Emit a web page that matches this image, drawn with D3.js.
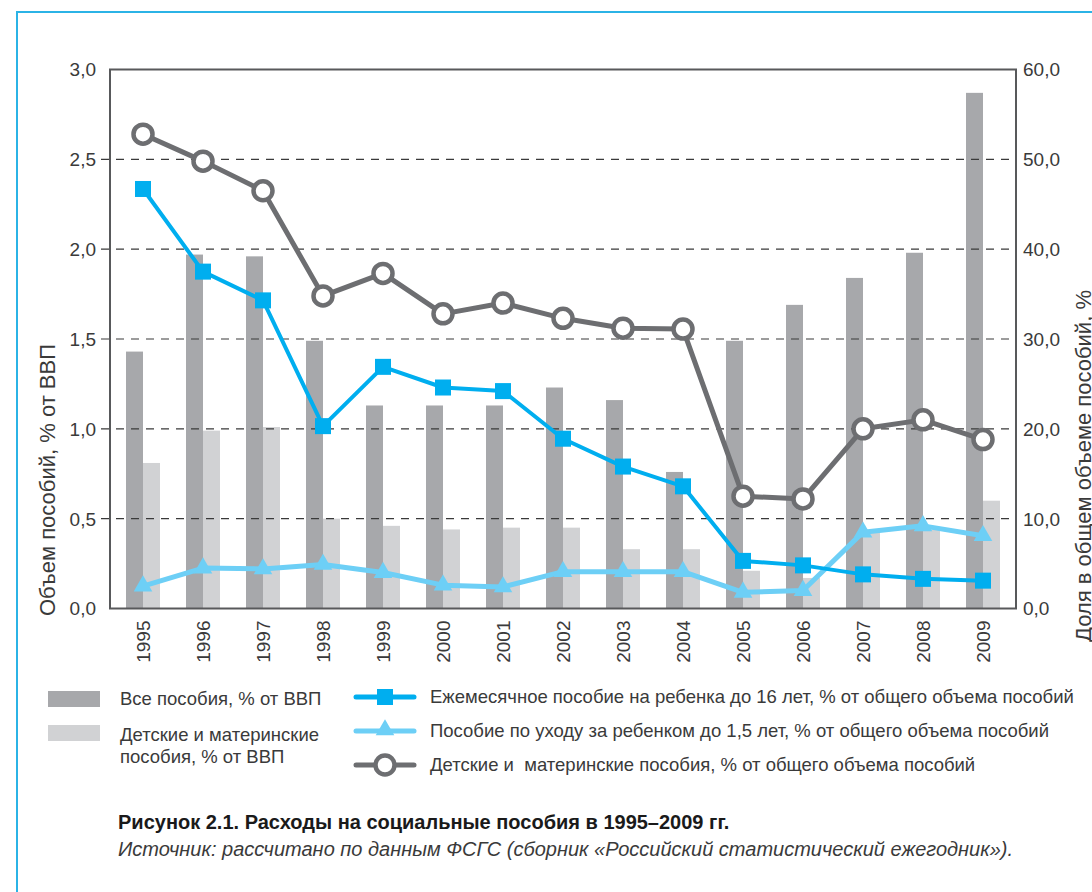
<!DOCTYPE html>
<html>
<head>
<meta charset="UTF-8" />
<title>Расходы на социальные пособия</title>
<script src="https://d3js.org/d3.v7.min.js"></script>
<style>
  body {
    margin: 0;
    background: #ffffff;
    font-family: "Liberation Sans", Arial, sans-serif;
  }
  svg { display: block; }
  .tick-label { font-size: 19px; fill: #3a3a3a; }
  .legend-text { font-size: 18.5px; fill: #3a3a3a; }
</style>
</head>
<body>
<svg id="chart"></svg>
<script>
  const years = ["1995","1996","1997","1998","1999","2000","2001","2002","2003","2004","2005","2006","2007","2008","2009"];

  // bars, left axis (% of GDP)
  const allBenefitsGdp   = [1.43, 1.97, 1.96, 1.49, 1.13, 1.13, 1.13, 1.23, 1.16, 0.76, 1.49, 1.69, 1.84, 1.98, 2.87];
  const childBenefitsGdp = [0.81, 0.99, 1.01, 0.50, 0.46, 0.44, 0.45, 0.45, 0.33, 0.33, 0.21, 0.17, 0.43, 0.44, 0.60];

  // lines, right axis (% of all benefits)
  const monthlyShare   = [46.7, 37.5, 34.3, 20.3, 26.9, 24.6, 24.2, 18.9, 15.8, 13.6, 5.3, 4.8, 3.8, 3.3, 3.1];
  const careLeaveShare = [2.5, 4.5, 4.4, 4.9, 4.0, 2.6, 2.4, 4.1, 4.1, 4.1, 1.8, 2.0, 8.5, 9.2, 8.1];
  const childShare     = [52.8, 49.8, 46.5, 34.8, 37.3, 32.8, 34.0, 32.3, 31.2, 31.1, 12.5, 12.2, 20.0, 21.0, 18.8];

  const leftTicks  = [0, 0.5, 1.0, 1.5, 2.0, 2.5, 3.0];
  const rightTicks = [0, 10, 20, 30, 40, 50, 60];

  const width = 1092, height = 892;
  const frame = { left: 110, right: 1016, top: 69.5, bottom: 608.5 };

  const svg = d3.select("#chart")
    .attr("width", width)
    .attr("height", height);

  // outer blue border (runs off the right/bottom edge)
  svg.append("path")
    .attr("d", `M17,${height + 5} L17,12 L${width + 5},12`)
    .attr("fill", "none")
    .attr("stroke", "#2bb3e6")
    .attr("stroke-width", 2);

  const x = d3.scaleBand().domain(years).range([113, 1013]).padding(0);
  const cx = d => x(d) + x.bandwidth() / 2;
  const yL = d3.scaleLinear().domain([0, 3]).range([frame.bottom, frame.top]);
  const yR = d3.scaleLinear().domain([0, 60]).range([frame.bottom, frame.top]);
  const barW = 17;

  // bars
  svg.append("g").selectAll("rect")
    .data(years)
    .enter().append("rect")
    .attr("x", d => cx(d) - barW)
    .attr("y", (d, i) => yL(allBenefitsGdp[i]))
    .attr("width", barW)
    .attr("height", (d, i) => yL(0) - yL(allBenefitsGdp[i]))
    .attr("fill", "#a7a8ab");

  svg.append("g").selectAll("rect")
    .data(years)
    .enter().append("rect")
    .attr("x", d => cx(d))
    .attr("y", (d, i) => yL(childBenefitsGdp[i]))
    .attr("width", barW)
    .attr("height", (d, i) => yL(0) - yL(childBenefitsGdp[i]))
    .attr("fill", "#d1d2d4");

  // dashed gridlines, drawn over the bars
  svg.append("g").selectAll("line")
    .data(leftTicks.filter(t => t > 0 && t < 3))
    .enter().append("line")
    .attr("x1", 101).attr("x2", frame.right)
    .attr("y1", d => yL(d)).attr("y2", d => yL(d))
    .attr("stroke", "#3a3a3a")
    .attr("stroke-width", 1.2)
    .attr("stroke-dasharray", "8,7");

  // left tick labels
  svg.append("g").selectAll("text")
    .data(leftTicks)
    .enter().append("text")
    .attr("class", "tick-label")
    .attr("x", 96)
    .attr("y", d => yL(d))
    .attr("dy", "0.36em")
    .attr("text-anchor", "end")
    .text(d => d.toFixed(1).replace(".", ","));

  // right tick labels
  svg.append("g").selectAll("text")
    .data(rightTicks)
    .enter().append("text")
    .attr("class", "tick-label")
    .attr("x", frame.right + 7)
    .attr("y", d => yR(d))
    .attr("dy", "0.36em")
    .text(d => d.toFixed(1).replace(".", ","));

  // year labels
  svg.append("g").selectAll("text")
    .data(years)
    .enter().append("text")
    .attr("class", "tick-label")
    .attr("transform", d => `translate(${cx(d) + 7},${frame.bottom + 12}) rotate(-90)`)
    .attr("text-anchor", "end")
    .text(d => d);

  // axis titles (the right one sits on the page edge, as in the original)
  svg.append("text")
    .attr("class", "tick-label")
    .style("font-size", "22px")
    .attr("transform", "translate(55,480) rotate(-90)")
    .attr("text-anchor", "middle")
    .text("Объем пособий, % от ВВП");

  svg.append("text")
    .attr("class", "tick-label")
    .style("font-size", "22px")
    .attr("transform", "translate(1091,466) rotate(-90)")
    .attr("text-anchor", "middle")
    .text("Доля в общем объеме пособий, %");

  // lines
  const lineGen = arr => d3.line()
    .x(d => cx(d))
    .y((d, i) => yR(arr[i]))(years);

  // care leave (triangles)
  svg.append("path")
    .attr("d", lineGen(careLeaveShare))
    .attr("fill", "none")
    .attr("stroke", "#6dcff6")
    .attr("stroke-width", 5)
    .attr("stroke-linejoin", "round");
  svg.append("g").selectAll("path")
    .data(years)
    .enter().append("path")
    .attr("d", d3.symbol().type(d3.symbolTriangle).size(150))
    .attr("transform", (d, i) => `translate(${cx(d)},${yR(careLeaveShare[i])})`)
    .attr("fill", "#6dcff6");

  // monthly allowance (squares)
  svg.append("path")
    .attr("d", lineGen(monthlyShare))
    .attr("fill", "none")
    .attr("stroke", "#00aeef")
    .attr("stroke-width", 4)
    .attr("stroke-linejoin", "round");
  svg.append("g").selectAll("rect")
    .data(years)
    .enter().append("rect")
    .attr("x", d => cx(d) - 8)
    .attr("y", (d, i) => yR(monthlyShare[i]) - 8)
    .attr("width", 16).attr("height", 16)
    .attr("fill", "#00aeef");

  // child & maternity share (circles)
  svg.append("path")
    .attr("d", lineGen(childShare))
    .attr("fill", "none")
    .attr("stroke", "#6d6e71")
    .attr("stroke-width", 5)
    .attr("stroke-linejoin", "round");
  svg.append("g").selectAll("circle")
    .data(years)
    .enter().append("circle")
    .attr("cx", d => cx(d))
    .attr("cy", (d, i) => yR(childShare[i]))
    .attr("r", 9.5)
    .attr("fill", "#fff")
    .attr("stroke", "#6d6e71")
    .attr("stroke-width", 4.5);

  // frame
  svg.append("rect")
    .attr("x", frame.left).attr("y", frame.top)
    .attr("width", frame.right - frame.left)
    .attr("height", frame.bottom - frame.top)
    .attr("fill", "none")
    .attr("stroke", "#58595b")
    .attr("stroke-width", 2);

  // legend: bars
  const leg = svg.append("g");
  leg.append("rect").attr("x", 48).attr("y", 691).attr("width", 52).attr("height", 16).attr("fill", "#a7a8ab");
  leg.append("text").attr("class", "legend-text").attr("x", 120).attr("y", 699).attr("dy", "0.35em")
    .text("Все пособия, % от ВВП");
  leg.append("rect").attr("x", 48).attr("y", 725).attr("width", 52).attr("height", 16).attr("fill", "#d1d2d4");
  leg.append("text").attr("class", "legend-text").attr("x", 120).attr("y", 735).attr("dy", "0.35em")
    .text("Детские и материнские");
  leg.append("text").attr("class", "legend-text").attr("x", 120).attr("y", 757).attr("dy", "0.35em")
    .text("пособия, % от ВВП");

  // legend: lines
  const lx1 = 356, lx2 = 414, lmid = 385;
  leg.append("line").attr("x1", lx1).attr("x2", lx2).attr("y1", 697).attr("y2", 697)
    .attr("stroke", "#00aeef").attr("stroke-width", 5).attr("stroke-linecap", "round");
  leg.append("rect").attr("x", lmid - 8).attr("y", 689).attr("width", 16).attr("height", 16).attr("fill", "#00aeef");
  leg.append("text").attr("class", "legend-text").attr("x", 430).attr("y", 697).attr("dy", "0.35em")
    .text("Ежемесячное пособие на ребенка до 16 лет, % от общего объема пособий");

  leg.append("line").attr("x1", lx1).attr("x2", lx2).attr("y1", 731).attr("y2", 731)
    .attr("stroke", "#6dcff6").attr("stroke-width", 5).attr("stroke-linecap", "round");
  leg.append("path").attr("d", d3.symbol().type(d3.symbolTriangle).size(150))
    .attr("transform", `translate(${lmid},730)`).attr("fill", "#6dcff6");
  leg.append("text").attr("class", "legend-text").attr("x", 430).attr("y", 731).attr("dy", "0.35em")
    .text("Пособие по уходу за ребенком до 1,5 лет, % от общего объема пособий");

  leg.append("line").attr("x1", lx1).attr("x2", lx2).attr("y1", 765).attr("y2", 765)
    .attr("stroke", "#6d6e71").attr("stroke-width", 5).attr("stroke-linecap", "round");
  leg.append("circle").attr("cx", lmid).attr("cy", 765).attr("r", 9.5)
    .attr("fill", "#fff").attr("stroke", "#6d6e71").attr("stroke-width", 4.5);
  leg.append("text").attr("class", "legend-text").attr("x", 430).attr("y", 765).attr("dy", "0.35em")
    .text("Детские и  материнские пособия, % от общего объема пособий")
    .style("white-space", "pre");

  // caption
  svg.append("text")
    .attr("x", 118).attr("y", 829)
    .style("font-size", "20px").style("font-weight", "bold").attr("fill", "#1a1a1a")
    .text("Рисунок 2.1. Расходы на социальные пособия в 1995–2009 гг.");
  svg.append("text")
    .attr("x", 118).attr("y", 856)
    .style("font-size", "20px").style("font-style", "italic").attr("fill", "#3a3a3a")
    .text("Источник: рассчитано по данным ФСГС (сборник «Российский статистический ежегодник»).");
</script>
</body>
</html>
